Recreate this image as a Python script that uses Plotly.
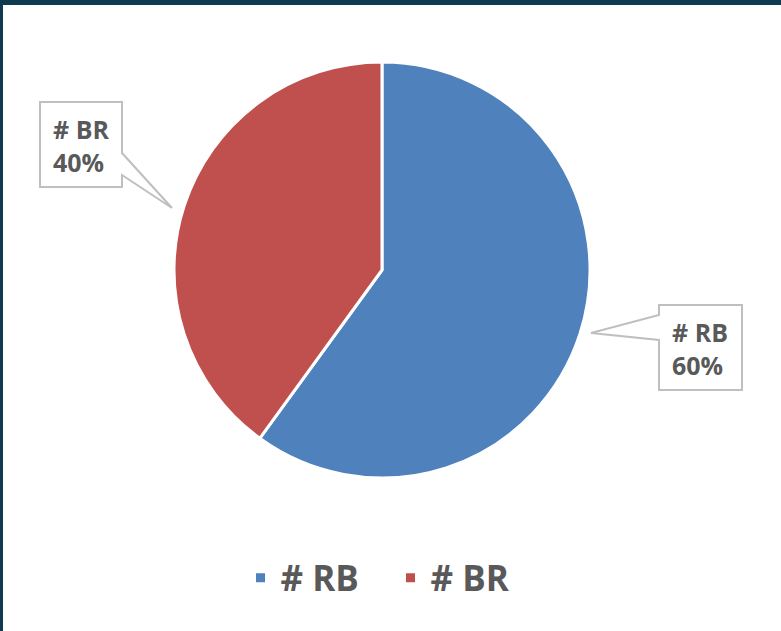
import plotly.graph_objects as go

labels = ["# RB", "# BR"]
values = [60, 40]
colors = ["#4F81BD", "#C0504D"]
label_texts = ["# RB<br>60%", "# BR<br>40%"]

W, H = 781, 631
cx, cy, r = 382, 270, 208

fig = go.Figure(go.Pie(
    labels=labels, values=values, sort=False, direction="clockwise", rotation=0,
    marker=dict(colors=colors, line=dict(color="white", width=3)),
    textinfo="none", hoverinfo="label+percent",
    domain=dict(x=[(cx - r) / W, (cx + r) / W], y=[(H - cy - r) / H, (H - cy + r) / H]),
))


def px(x, y):
    return x / W, (H - y) / H


def path(points):
    parts = []
    for i, (x, y) in enumerate(points):
        u, v = px(x, y)
        parts.append(("M" if i == 0 else "L") + f"{u:.5f},{v:.5f}")
    return " ".join(parts) + " Z"


callout_left = [(40, 102), (122, 102), (122, 153), (172, 208), (122, 175), (122, 187), (40, 187)]
callout_right = [(659, 305), (742, 305), (742, 390), (659, 390), (659, 340), (591, 333), (659, 315)]

shapes = [
    dict(type="path", xref="paper", yref="paper", path=path(callout_left),
         fillcolor="white", line=dict(color="#BFBFBF", width=2), layer="above"),
    dict(type="path", xref="paper", yref="paper", path=path(callout_right),
         fillcolor="white", line=dict(color="#BFBFBF", width=2), layer="above"),
    dict(type="rect", xref="paper", yref="paper", x0=-0.01, x1=1.01, y0=1 - 5 / H, y1=1.01,
         fillcolor="#0e3a50", line=dict(width=0), layer="above"),
    dict(type="rect", xref="paper", yref="paper", x0=-0.01, x1=3 / W, y0=-0.01, y1=1.01,
         fillcolor="#0e3a50", line=dict(width=0), layer="above"),
]

lfont = dict(family="Open Sans", size=25, color="#595959")
annos = [
    dict(x=px(670, 0)[0], y=px(0, 348)[1], xref="paper", yref="paper", xanchor="left", yanchor="middle",
         text="<b>" + label_texts[0] + "</b>", showarrow=False, align="left", font=lfont),
    dict(x=px(51, 0)[0], y=px(0, 145)[1], xref="paper", yref="paper", xanchor="left", yanchor="middle",
         text="<b>" + label_texts[1] + "</b>", showarrow=False, align="left", font=lfont),
]

fig.update_layout(
    width=W, height=H, margin=dict(l=0, r=0, t=0, b=0),
    paper_bgcolor="white", plot_bgcolor="white",
    showlegend=True,
    legend=dict(orientation="h", x=0.5, xanchor="center", y=53 / H, yanchor="middle",
                font=dict(family="Open Sans", size=35, color="#595959", weight="bold"),
                entrywidth=105),
    annotations=annos,
    shapes=shapes,
)

fig.write_html("out.html", config={"displayModeBar": False},
               post_script="document.body.style.margin='0';document.body.style.overflow='hidden';")
